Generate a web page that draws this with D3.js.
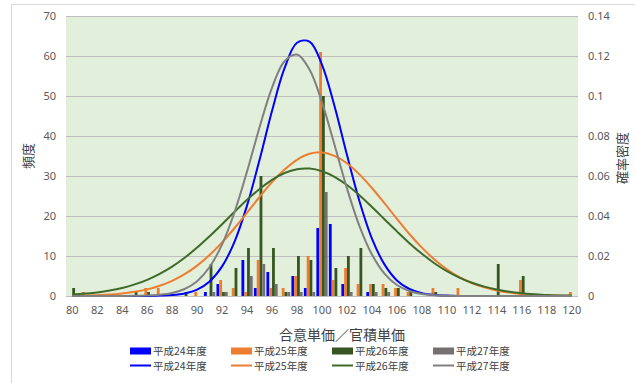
<!DOCTYPE html>
<html><head><meta charset="utf-8">
<script src="https://cdn.jsdelivr.net/npm/d3@7"></script>
<style>
html,body{margin:0;padding:0;background:#fff;}
svg{display:block;font-family:"Noto Sans CJK JP","Noto Sans",sans-serif;}
</style></head>
<body><svg id="chart" width="635" height="383"></svg>
<script>
const categories = [80,81,82,83,84,85,86,87,88,89,90,91,92,93,94,95,96,97,98,99,100,101,102,103,104,105,106,107,108,109,110,111,112,113,114,115,116,117,118,119,120];
const seriesNames = ["平成24年度","平成25年度","平成26年度","平成27年度"];
// frequency (bars, left axis)
const freqH24 = [0,0,0,0,0,0,0,0,0,0,0,1,3,0,9,2,6,0,5,2,17,18,3,0,1,0,0,0,0,0,0,0,0,0,0,0,0,0,0,0,0];
const freqH25 = [0,1,0,0,0,0,2,2,0,0,1,0,4,2,1,9,2,2,5,10,61,4,7,3,3,3,2,1,0,2,0,2,0,0,0,0,4,0,0,0,1];
const freqH26 = [2,0,0,0,0,1,1,0,0,1,0,8,1,7,12,30,12,1,10,9,50,7,10,12,3,2,2,1,0,1,0,0,0,0,8,0,5,0,0,0,0];
const freqH27 = [0,0,0,0,0,0,0,0,0,0,0,1,1,0,5,8,3,1,1,1,26,0,1,0,1,1,0,0,0,0,0,0,0,0,0,0,0,0,0,0,0];
// probability density (lines, right axis)
const densH24 = [0,0,0,0,0,0,0,0.0002,0.0005,0.0013,0.0032,0.0073,0.0148,0.0272,0.0453,0.0681,0.0926,0.1139,0.1266,0.1272,0.1156,0.0950,0.0705,0.0474,0.0287,0.0158,0.0078,0.0035,0.0014,0.0005,0.0002,0,0,0,0,0,0,0,0,0,0];
const densH25 = [0.0001,0.0002,0.0004,0.0007,0.0013,0.0021,0.0033,0.0051,0.0076,0.0109,0.0152,0.0205,0.0268,0.0340,0.0417,0.0495,0.0569,0.0632,0.0681,0.0711,0.0718,0.0701,0.0664,0.0608,0.0540,0.0464,0.0386,0.0310,0.0242,0.0183,0.0134,0.0094,0.0065,0.0043,0.0028,0.0017,0.0010,0.0006,0.0003,0.0002,0.0001];
const densH26 = [0.0007,0.0012,0.0018,0.0027,0.0040,0.0058,0.0081,0.0111,0.0147,0.0191,0.0242,0.0299,0.0359,0.0421,0.0481,0.0535,0.0581,0.0615,0.0634,0.0637,0.0624,0.0596,0.0555,0.0504,0.0445,0.0384,0.0323,0.0264,0.0211,0.0164,0.0124,0.0092,0.0066,0.0047,0.0032,0.0021,0.0014,0.0009,0.0005,0.0003,0.0002];
const densH27 = [0,0,0,0,0,0.0001,0.0002,0.0006,0.0015,0.0035,0.0074,0.0145,0.0258,0.0420,0.0623,0.0844,0.1042,0.1174,0.1207,0.1132,0.0968,0.0756,0.0538,0.0349,0.0207,0.0112,0.0055,0.0025,0.0010,0.0004,0.0001,0,0,0,0,0,0,0,0,0,0];
const xTickLabels = [80,82,84,86,88,90,92,94,96,98,100,102,104,106,108,110,112,114,116,118,120];
const yLeftTicks = [0,10,20,30,40,50,60,70];
const yRightTicks = [0,0.02,0.04,0.06,0.08,0.1,0.12,0.14];
const xTitle = "合意単価／官積単価";
const yLeftTitle = "頻度";
const yRightTitle = "確率密度";

const barColors = ["#0000ff","#ed7d31","#375623","#767171"];
const lineColors = ["#0000ff","#ed7d31","#3f6b2a","#808080"];

const freqs = [freqH24,freqH25,freqH26,freqH27];
const dens = [densH24,densH25,densH26,densH27];

const svg = d3.select("#chart");
const L = 66, R = 578, T = 16, B = 296;

// outer chart border
svg.append("rect").attr("x",11.5).attr("y",4.5).attr("width",640).attr("height",400)
  .attr("fill","none").attr("stroke","#d9d9d9").attr("stroke-width",1);

svg.append("rect").attr("x",L).attr("y",T).attr("width",R-L).attr("height",B-T).attr("fill","#e2efda");

const x = d3.scaleBand().domain(categories).range([L,R]).paddingInner(0.1).paddingOuter(0.05);
const xs = d3.scaleBand().domain(d3.range(4)).range([0,x.bandwidth()]);
const yL = d3.scaleLinear().domain([0,70]).range([B,T]);
const yR = d3.scaleLinear().domain([0,0.14]).range([B,T]);

const numFont = "'Noto Sans','Noto Sans CJK JP',sans-serif";

// gridlines
const grid = d3.axisLeft(yL).tickValues(yLeftTicks).tickSize(-(R-L)).tickFormat("");
svg.append("g").attr("transform",`translate(${L},0)`).call(grid)
  .call(g=>g.select(".domain").remove())
  .call(g=>g.selectAll("line").attr("stroke","#bfbfbf").attr("stroke-width",1));

// left axis labels
svg.append("g").attr("transform",`translate(${L},0)`)
  .call(d3.axisLeft(yL).tickValues(yLeftTicks).tickSize(0).tickPadding(10))
  .call(g=>g.select(".domain").remove())
  .call(g=>g.selectAll("text").attr("fill","#595959").style("font-size","11px").style("font-family",numFont));

// right axis labels
svg.append("g").attr("transform",`translate(${R},0)`)
  .call(d3.axisRight(yR).tickValues(yRightTicks).tickSize(0).tickPadding(10).tickFormat(d=>String(+d.toFixed(2))))
  .call(g=>g.select(".domain").remove())
  .call(g=>g.selectAll("text").attr("fill","#595959").style("font-size","11px").style("font-family",numFont));

// x axis labels
svg.append("g").attr("transform",`translate(0,${B})`)
  .call(d3.axisBottom(x).tickValues(xTickLabels).tickSize(0).tickPadding(10))
  .call(g=>g.select(".domain").remove())
  .call(g=>g.selectAll("text").attr("fill","#595959").style("font-size","11px").style("font-family",numFont));

// bars
freqs.forEach((arr,si)=>{
  svg.append("g").selectAll("rect").data(categories.map((c,i)=>({c,v:arr[i]})).filter(d=>d.v>0))
    .join("rect")
    .attr("x",d=>x(d.c)+xs(si))
    .attr("width",xs.bandwidth())
    .attr("y",d=>yL(d.v))
    .attr("height",d=>yL(0)-yL(d.v))
    .attr("fill",barColors[si]);
});

// lines
const line = d3.line().x(d=>x(d.c)+x.bandwidth()/2).y(d=>yR(d.v)).curve(d3.curveCatmullRom.alpha(0.5));
dens.forEach((arr,si)=>{
  svg.append("path").datum(categories.map((c,i)=>({c,v:arr[i]})))
    .attr("d",line).attr("fill","none").attr("stroke",lineColors[si]).attr("stroke-width",2);
});

// axis titles
svg.append("text").attr("x",342).attr("y",340).attr("text-anchor","middle")
  .attr("fill","#404040").style("font-size","14px").text(xTitle);
svg.append("text").attr("transform","translate(33,156) rotate(-90)").attr("text-anchor","middle")
  .attr("fill","#404040").style("font-size","13px").text(yLeftTitle);
svg.append("text").attr("transform","translate(627,158) rotate(-90)").attr("text-anchor","middle")
  .attr("fill","#404040").style("font-size","13px").text(yRightTitle);

// legend
const legX = [130,231,332,433];
seriesNames.forEach((n,i)=>{
  const g = svg.append("g");
  g.append("rect").attr("x",legX[i]).attr("y",347.5).attr("width",21).attr("height",7).attr("fill",barColors[i]);
  g.append("text").attr("x",legX[i]+23).attr("y",354.5).attr("fill","#404040").style("font-size","10.5px").text(n);
  g.append("line").attr("x1",legX[i]).attr("x2",legX[i]+21).attr("y1",365.5).attr("y2",365.5)
    .attr("stroke",lineColors[i]).attr("stroke-width",2);
  g.append("text").attr("x",legX[i]+23).attr("y",369.5).attr("fill","#404040").style("font-size","10.5px").text(n);
});
</script></body></html>
